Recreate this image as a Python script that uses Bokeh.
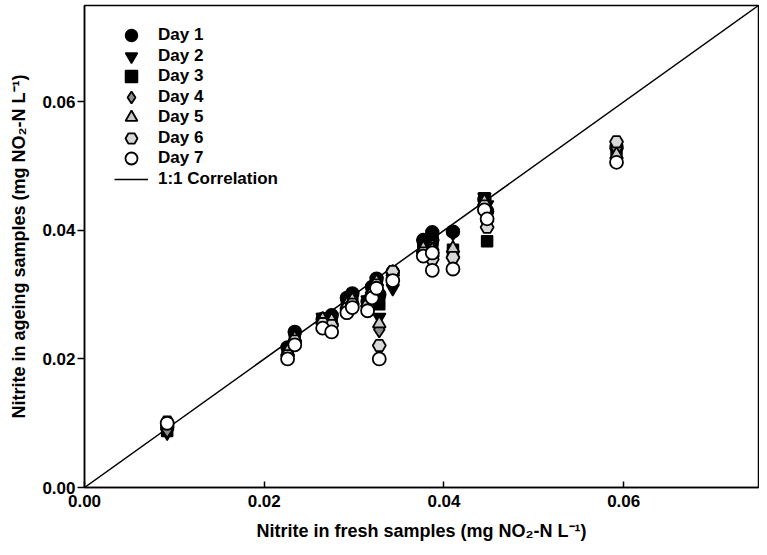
from bokeh.plotting import figure
from bokeh.models import Legend, LegendItem, FixedTicker, NumeralTickFormatter, Range1d
from bokeh.embed import file_html
from bokeh.resources import INLINE

# Fresh-sample nitrite (x) for each sample, shared by all days
fresh = [0.0092, 0.0226, 0.0234, 0.0265, 0.0275, 0.0292, 0.0298, 0.0315, 0.0320,
         0.0325, 0.0328, 0.0343, 0.0377, 0.0387, 0.0387, 0.0410, 0.0445, 0.0448, 0.0592]

day1 = [0.0095, 0.0218, 0.0242, 0.0262, 0.0268, 0.0295, 0.0302, 0.0290, 0.0312,
        0.0325, 0.0300, 0.0335, 0.0385, 0.0397, 0.0385, 0.0398, 0.0448, 0.0430, 0.0530]
day2 = [0.0085, 0.0215, 0.0238, 0.0265, 0.0265, 0.0290, 0.0298, 0.0292, 0.0310,
        0.0322, 0.0265, 0.0310, 0.0380, 0.0390, 0.0380, 0.0396, 0.0452, 0.0440, 0.0522]
day3 = [0.0088, 0.0215, 0.0235, 0.0262, 0.0262, 0.0288, 0.0295, 0.0288, 0.0305,
        0.0320, 0.0285, 0.0330, 0.0378, 0.0385, 0.0382, 0.0370, 0.0450, 0.0383, 0.0525]
day4 = [0.0090, 0.0210, 0.0230, 0.0258, 0.0255, 0.0280, 0.0290, 0.0285, 0.0300,
        0.0318, 0.0246, 0.0332, 0.0368, 0.0372, 0.0365, 0.0362, 0.0440, 0.0412, 0.0528]
day5 = [0.0098, 0.0212, 0.0232, 0.0262, 0.0260, 0.0285, 0.0292, 0.0288, 0.0308,
        0.0320, 0.0255, 0.0335, 0.0372, 0.0375, 0.0370, 0.0372, 0.0445, 0.0420, 0.0518]
day6 = [0.0102, 0.0205, 0.0228, 0.0255, 0.0252, 0.0278, 0.0285, 0.0282, 0.0300,
        0.0315, 0.0221, 0.0336, 0.0365, 0.0360, 0.0355, 0.0358, 0.0438, 0.0405, 0.0538]
day7 = [0.0100, 0.0200, 0.0222, 0.0248, 0.0242, 0.0272, 0.0280, 0.0275, 0.0295,
        0.0310, 0.0200, 0.0322, 0.0360, 0.0365, 0.0338, 0.0340, 0.0432, 0.0418, 0.0506]

corr_x = [0.0, 0.075]
corr_y = [0.0, 0.075]
ticks = [0.0, 0.02, 0.04, 0.06]

FONT = "Liberation Sans"

p = figure(width=759, height=547, output_backend="svg", toolbar_location=None,
           x_range=Range1d(0, 0.075), y_range=Range1d(0, 0.075),
           min_border_left=84, min_border_right=1, min_border_top=5, min_border_bottom=60)
p.grid.visible = False
p.outline_line_color = "black"
p.outline_line_width = 1.5
p.background_fill_color = "white"
p.border_fill_color = "white"

for ax in (p.xaxis[0], p.yaxis[0]):
    ax.ticker = FixedTicker(ticks=ticks)
    ax.formatter = NumeralTickFormatter(format="0.00")
    ax.minor_tick_line_color = None
    ax.axis_line_width = 1.5
    ax.major_tick_line_width = 1.5
    ax.major_label_text_font = FONT
    ax.major_label_text_font_style = "bold"
    ax.major_label_text_font_size = "17px"
    ax.major_label_text_color = "black"
    ax.axis_label_text_font = FONT
    ax.axis_label_text_font_style = "bold"
    ax.axis_label_text_font_size = "18px"
    ax.axis_label_text_color = "black"

p.xaxis.major_tick_in = 6
p.xaxis.major_tick_out = 0
p.xaxis.major_label_standoff = 7
p.xaxis.axis_label_standoff = 11
p.yaxis.major_tick_in = 0
p.yaxis.major_tick_out = 7
p.yaxis.major_label_standoff = 2
p.yaxis.axis_label_standoff = 10

p.xaxis.axis_label = "Nitrite in fresh samples (mg NO\u2082-N L\u207b\u00b9)"
p.yaxis.axis_label = "Nitrite in ageing samples (mg NO\u2082-N L\u207b\u00b9)"

line = p.line(corr_x, corr_y, line_color="black", line_width=1.5)

S = 13
r1 = p.scatter(fresh, day1, marker="circle", size=S, fill_color="black", line_color="black", line_width=1.5)
r2 = p.scatter(fresh, day2, marker="inverted_triangle", size=S, fill_color="black", line_color="black", line_width=1.5)
r3 = p.scatter(fresh, day3, marker="square", size=S - 2, fill_color="black", line_color="black", line_width=1.5)
r4 = p.scatter(fresh, day4, marker="diamond", size=S + 3, fill_color="#8c8c8c", line_color="black", line_width=1.8)
r5 = p.scatter(fresh, day5, marker="triangle", size=S, fill_color="#c8c8c8", line_color="black", line_width=1.8)
r6 = p.scatter(fresh, day6, marker="hex", size=S, fill_color="#d8d8d8", line_color="black", line_width=1.8)
r7 = p.scatter(fresh, day7, marker="circle", size=S, fill_color="white", line_color="black", line_width=1.8)

labels = ["Day 1", "Day 2", "Day 3", "Day 4", "Day 5", "Day 6", "Day 7", "1:1 Correlation"]
rends = [r1, r2, r3, r4, r5, r6, r7, line]

# Two interleaved legends give a 20.5px row pitch with 12px legend markers
common = dict(padding=0, margin=0, glyph_width=34, glyph_height=30, label_height=30,
              spacing=11, label_standoff=10, border_line_color=None, background_fill_alpha=0,
              label_text_font=FONT, label_text_font_style="bold", label_text_font_size="17px",
              label_text_color="black")
leg_a = Legend(items=[LegendItem(label=labels[i], renderers=[rends[i]]) for i in (0, 2, 4, 6)],
               location=(30, 314), **common)
leg_b = Legend(items=[LegendItem(label=labels[i], renderers=[rends[i]]) for i in (1, 3, 5, 7)],
               location=(30, 293), **common)
p.add_layout(leg_a)
p.add_layout(leg_b)

open("out.html", "w").write(file_html(p, INLINE))
